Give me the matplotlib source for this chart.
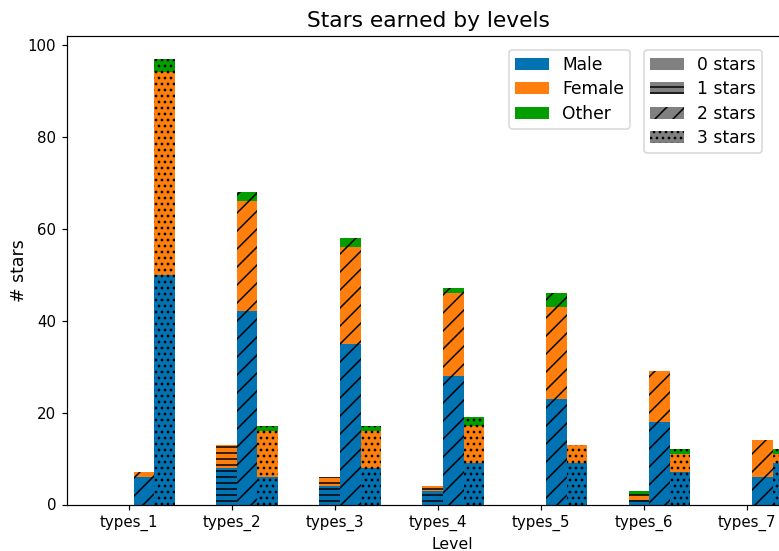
import matplotlib
matplotlib.use("Agg")
import numpy as np
import matplotlib.pyplot as plt
from matplotlib.patches import Patch

# Levels on the x axis
categories = ["types_1", "types_2", "types_3", "types_4", "types_5", "types_6", "types_7"]
star_labels = ["0 stars", "1 stars", "2 stars", "3 stars"]
genders = ["Male", "Female", "Other"]

# Counts per star level (rows: 0, 1, 2, 3 stars; columns: levels)
male = [
    [0, 0, 0, 0, 0, 0, 0],
    [0, 8, 4, 3, 0, 1, 0],
    [6, 42, 35, 28, 23, 18, 6],
    [50, 6, 8, 9, 9, 7, 9],
]
female = [
    [0, 0, 0, 0, 0, 0, 0],
    [0, 5, 2, 1, 0, 1, 0],
    [1, 24, 21, 18, 20, 11, 8],
    [44, 10, 8, 8, 4, 4, 2],
]
other = [
    [0, 0, 0, 0, 0, 0, 0],
    [0, 0, 0, 0, 0, 1, 0],
    [0, 2, 2, 1, 3, 0, 0],
    [3, 1, 1, 2, 0, 1, 1],
]

gender_colors = ["#0173b2", "#ff7f0e", "#029e00"]
star_hatches = ["", "---", "//", "..."]
bar_offsets = [-0.25, -0.05, 0.15, 0.35]
bar_width = 0.2

DPI = 108
fig = plt.figure(figsize=(779 / DPI, 551 / DPI), dpi=DPI)
ax = fig.add_axes([66.7 / 779, 46.5 / 551, 771.2 / 779, 468.2 / 551])

x = np.arange(len(categories))
for s, hatch in enumerate(star_hatches):
    bottom = np.zeros(len(categories))
    for g, series in enumerate([male, female, other]):
        vals = np.array(series[s], dtype=float)
        ax.bar(x + bar_offsets[s], vals, bar_width, bottom=bottom,
               color=gender_colors[g], hatch=hatch, linewidth=0)
        bottom += vals

ax.set_xlim(-0.6, 6.88)
ax.set_xticks(x)
ax.set_xticklabels(categories, fontsize=10)
ax.tick_params(axis="y", labelsize=10)
ax.set_xlabel("Level", fontsize=10.5)
ax.set_ylabel("# stars", fontsize=11.5, labelpad=0)
ax.set_title("Stars earned by levels", fontsize=14.5, x=(428 - 66.7) / 771.2)

gender_handles = [Patch(facecolor=c, label=g) for c, g in zip(gender_colors, genders)]
star_handles = [Patch(facecolor="gray", hatch=h, label=l) for h, l in zip(star_hatches, star_labels)]

legend_style = dict(loc="upper right", bbox_transform=fig.transFigure, borderaxespad=0,
                    fontsize=11.4, labelspacing=0.37, borderpad=0.35, handletextpad=0.75)
leg1 = ax.legend(handles=gender_handles, bbox_to_anchor=(630 / 779, 1 - 50 / 551), **legend_style)
ax.add_artist(leg1)
ax.legend(handles=star_handles, bbox_to_anchor=(762 / 779, 1 - 50 / 551), **legend_style)

fig.savefig("out.png", dpi=DPI)
